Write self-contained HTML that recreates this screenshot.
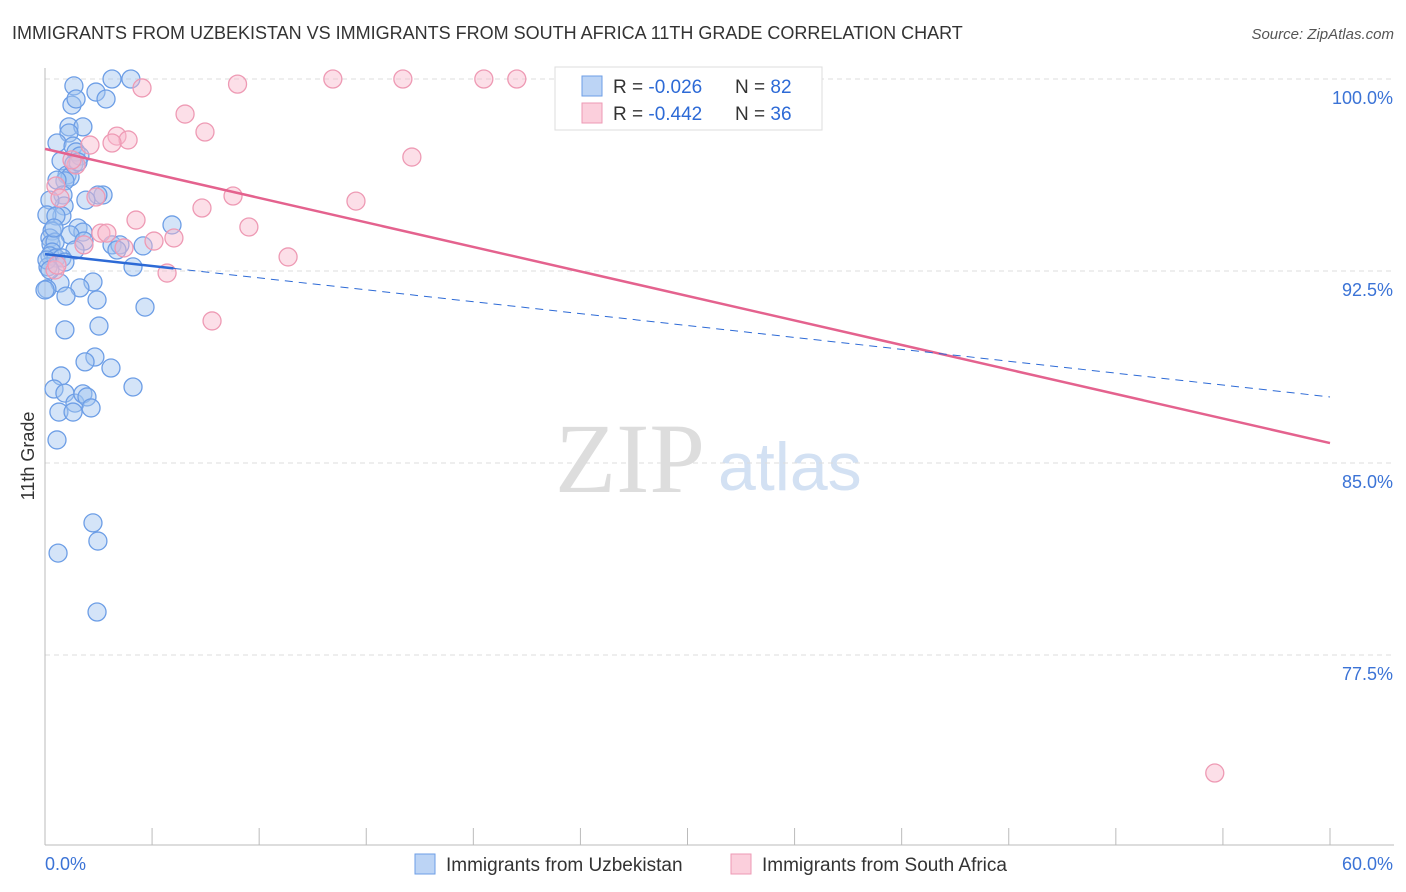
<!DOCTYPE html>
<html><head><meta charset="utf-8"><style>
body{margin:0;background:#fff;font-family:"Liberation Sans",sans-serif;}
#wrap{position:relative;width:1406px;height:892px;overflow:hidden;}
</style></head><body>
<div id="wrap">
<svg id="svg" width="1406" height="892" xmlns="http://www.w3.org/2000/svg">
<text x="12" y="39" font-size="18" fill="#333">IMMIGRANTS FROM UZBEKISTAN VS IMMIGRANTS FROM SOUTH AFRICA 11TH GRADE CORRELATION CHART</text>
<text x="1394" y="39" font-size="15" fill="#555" text-anchor="end" font-style="italic">Source: ZipAtlas.com</text>
<text x="34" y="456" font-size="18" fill="#333" text-anchor="middle" transform="rotate(-90 34 456)">11th Grade</text>
<text x="555" y="492" font-size="100" fill="#ddd" font-family="Liberation Serif">ZIP</text>
<text x="718" y="490" font-size="68" fill="#d3e1f3">atlas</text>
<g id="grid"></g><g id="pts"></g><g id="lines"></g>
<g>
<rect x="555" y="67" width="267" height="63" fill="#fff" stroke="#ddd"/>
<rect x="582" y="76" width="20" height="20" fill="#bcd4f5" stroke="#6d9ee6"/>
<rect x="582" y="103" width="20" height="20" fill="#fbcfdc" stroke="#ee9ab4"/>
<text x="613" y="93" font-size="19" fill="#333">R = <tspan fill="#2d6ad6">-0.026</tspan><tspan x="735">N = </tspan><tspan fill="#2d6ad6">82</tspan></text>
<text x="613" y="120" font-size="19" fill="#333">R = <tspan fill="#2d6ad6">-0.442</tspan><tspan x="735">N = </tspan><tspan fill="#2d6ad6">36</tspan></text>
</g>
<g>
<rect x="415" y="854" width="20" height="20" fill="#bcd4f5" stroke="#6d9ee6"/>
<text x="446" y="871" font-size="19" fill="#333">Immigrants from Uzbekistan</text>
<rect x="731" y="854" width="20" height="20" fill="#fbcfdc" stroke="#ee9ab4"/>
<text x="762" y="871" font-size="19" fill="#333">Immigrants from South Africa</text>
</g>
</svg>
</div>
<script>
const yTicks=[100,92.5,85,77.5];
const yTickLabels=["100.0%","92.5%","85.0%","77.5%"];
const xTickLabels=["0.0%","60.0%"];
const blueX=[1.35,4.01,3.13,2.38,2.85,1.26,1.45,1.12,1.77,1.12,0.56,1.31,1.45,1.63,0.75,1.03,1.17,0.93,1.35,1.54,0.56,2.71,2.47,1.91,0.84,0.89,0.23,0.79,0.09,0.51,5.93,1.54,1.77,1.17,0.33,0.23,0.28,0.47,1.82,3.13,3.50,4.58,3.36,1.40,0.33,0.23,0.51,0.79,0.93,4.11,0.14,0.70,2.24,1.63,0.09,0.98,2.43,4.67,2.52,0.93,2.33,1.87,3.08,0.75,0.42,0.93,1.40,1.77,1.96,0.65,1.31,2.15,4.11,0.56,2.24,2.47,0.61,2.43,0.09,0.23,0.42,0.0];
const blueY=[99.73,100.0,100.0,99.49,99.22,98.98,99.22,98.13,98.13,97.89,97.50,97.38,97.15,96.99,96.80,96.25,96.17,96.02,96.68,96.76,96.05,95.47,95.47,95.27,95.47,95.04,95.27,94.65,94.69,94.65,94.30,94.18,94.02,93.91,94.06,93.79,93.55,93.63,93.67,93.52,93.52,93.48,93.32,93.32,93.24,93.09,93.01,93.01,92.85,92.66,92.66,92.03,92.07,91.84,91.80,91.52,91.37,91.09,90.35,90.20,89.14,88.95,88.71,88.40,87.89,87.73,87.34,87.70,87.58,86.99,86.99,87.15,87.97,85.90,82.66,81.95,81.48,79.18,92.93,92.54,94.18,91.76];
const pinkX=[33.56,13.44,16.71,20.49,22.03,8.99,4.53,6.54,7.47,3.36,3.88,3.13,2.10,17.13,1.45,0.51,0.70,8.78,14.52,2.38,7.33,4.25,9.52,2.61,2.89,5.09,6.02,3.69,1.82,11.35,5.70,0.47,7.80,54.62,0.56,1.26];
const pinkY=[100.0,100.0,100.0,100.0,100.0,99.80,99.65,98.63,97.93,97.77,97.62,97.50,97.42,96.95,96.64,95.82,95.35,95.43,95.23,95.39,94.96,94.49,94.22,93.98,93.98,93.67,93.79,93.40,93.52,93.05,92.42,92.54,90.55,72.89,92.73,96.84];
const trendPink=[97.27,85.78];
const trendBlue=[93.16,87.58];
const NS="http://www.w3.org/2000/svg";
const X0=45,X1=1330,Y100=79,PX_PER=25.6;
const sx=v=>X0+v/60*(X1-X0);
const sy=v=>Y100+(100-v)*PX_PER;
function mk(t,a,p){const e=document.createElementNS(NS,t);for(const k in a)e.setAttribute(k,a[k]);p.appendChild(e);return e;}
const grid=document.getElementById('grid');
yTicks.forEach((t,i)=>{
 const l=mk('line',{x1:X0,x2:1394,y1:sy(t),y2:sy(t),stroke:'#ddd','stroke-dasharray':'5,4'},grid);
 
 
 const tx=mk('text',{x:1393,y:sy(t)+25,'font-size':18,fill:'#3b73d6','text-anchor':'end'},grid);
 tx.textContent=yTickLabels[i];
 
 
});
mk('line',{x1:X0,x2:X0,y1:68,y2:845,stroke:'#bbb'},grid);
mk('line',{x1:X0,x2:1394,y1:845,y2:845,stroke:'#bbb'},grid);
for(let i=0;i<=12;i++){
 const t=mk('line',{x1:sx(i*5),x2:sx(i*5),y1:828,y2:845,stroke:'#bbb'},grid);
 
 
}
[[0,'start',45],[60,'end',1393]].forEach((d,i)=>{
 const tx=mk('text',{x:d[2],y:870,'font-size':18,fill:'#3b73d6','text-anchor':d[1]},grid);
 tx.textContent=xTickLabels[i];
 
 
});
const pts=document.getElementById('pts');
blueX.forEach((x,i)=>{
 const c=mk('circle',{cx:sx(x),cy:sy(blueY[i]),r:9,fill:'rgba(160,195,240,0.45)',stroke:'#6d9ee6','stroke-width':1.3},pts);
 
 
});
pinkX.forEach((x,i)=>{
 const c=mk('circle',{cx:sx(x),cy:sy(pinkY[i]),r:9,fill:'rgba(248,185,205,0.45)',stroke:'#ee9ab4','stroke-width':1.3},pts);
 
 
});
const lines=document.getElementById('lines');
const bAt=x=>trendBlue[0]+(trendBlue[1]-trendBlue[0])*x/60;
const pl=mk('line',{x1:sx(0),y1:sy(trendPink[0]),x2:sx(60),y2:sy(trendPink[1]),stroke:'#e4628e','stroke-width':2.5},lines);


const bl=mk('line',{x1:sx(0),y1:sy(bAt(0)),x2:sx(6),y2:sy(bAt(6)),stroke:'#2d6ad6','stroke-width':2.5},lines);


const bd=mk('line',{x1:sx(6),y1:sy(bAt(6)),x2:sx(60),y2:sy(bAt(60)),stroke:'#2d6ad6','stroke-width':1,'stroke-dasharray':'8,6'},lines);


</script>
</body></html>
